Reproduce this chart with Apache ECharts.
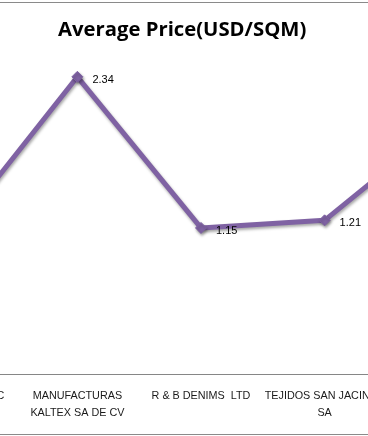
<!DOCTYPE html>
<html>
<head>
<meta charset="utf-8">
<script src="https://cdn.jsdelivr.net/npm/echarts@6/dist/echarts.min.js"></script>
<style>
html,body{margin:0;padding:0;background:#fff;overflow:hidden;width:368px;height:436px;position:relative;}
#c{position:absolute;left:-108px;top:0;width:618px;height:436px;}
</style>
</head>
<body>
<div id="c"></div>
<script>
var titleText = 'Average Price(USD/SQM)';
var categories = ['GALEY & LORD INC', 'MANUFACTURAS\nKALTEX SA DE CV', 'R & B DENIMS  LTD', 'TEJIDOS SAN JACINTO\nSA', 'VICUNHA TEXTIL SA'];
var prices = [1.11, 2.34, 1.15, 1.21, 2.0];
var labelShown = [false, true, true, true, false];

var OFF = 108; // container offset relative to the window
var chart = echarts.init(document.getElementById('c'), null, {renderer: 'canvas'});
var purple = '#7F62A3';
chart.setOption({
  animation: false,
  backgroundColor: '#fff',
  title: {
    text: titleText,
    left: 53 + OFF,
    top: 15,
    textStyle: {fontFamily: 'Open Sans', fontWeight: 'bold', fontSize: 20.3, color: '#000'}
  },
  graphic: [
    {type: 'line', shape: {x1: 0, y1: 2.5, x2: 618, y2: 2.5}, style: {stroke: '#8a8a8a', lineWidth: 1}},
    {type: 'line', shape: {x1: 0, y1: 434.5, x2: 618, y2: 434.5}, style: {stroke: '#8a8a8a', lineWidth: 1}}
  ],
  grid: {left: 0, right: 0, top: 56.5, bottom: 62, containLabel: false},
  xAxis: {
    type: 'category',
    data: categories,
    boundaryGap: true,
    axisLine: {show: true, lineStyle: {color: '#868686', width: 1}},
    axisTick: {show: false},
    axisLabel: {
      interval: 0,
      margin: 14,
      fontFamily: 'Liberation Sans',
      fontSize: 10.8,
      lineHeight: 17,
      color: '#1a1a1a'
    }
  },
  yAxis: {
    type: 'value',
    min: 0,
    max: 2.5,
    show: false,
    splitLine: {show: false}
  },
  series: [{
    type: 'line',
    data: prices.map(function (v, i) {
      return {value: v, label: {show: labelShown[i]}};
    }),
    symbol: 'diamond',
    symbolSize: 11,
    lineStyle: {color: purple, width: 5, shadowColor: 'rgba(0,0,0,0.35)', shadowBlur: 3, shadowOffsetX: 1, shadowOffsetY: 2},
    itemStyle: {color: purple, borderColor: purple, shadowColor: 'rgba(0,0,0,0.35)', shadowBlur: 3, shadowOffsetX: 1, shadowOffsetY: 2},
    label: {
      position: 'right',
      distance: 9,
      offset: [0, 3],
      fontFamily: 'Liberation Sans',
      fontSize: 11,
      color: '#000',
      formatter: function (p) { return p.value.toFixed(2); }
    }
  }]
});
</script>
</body>
</html>
